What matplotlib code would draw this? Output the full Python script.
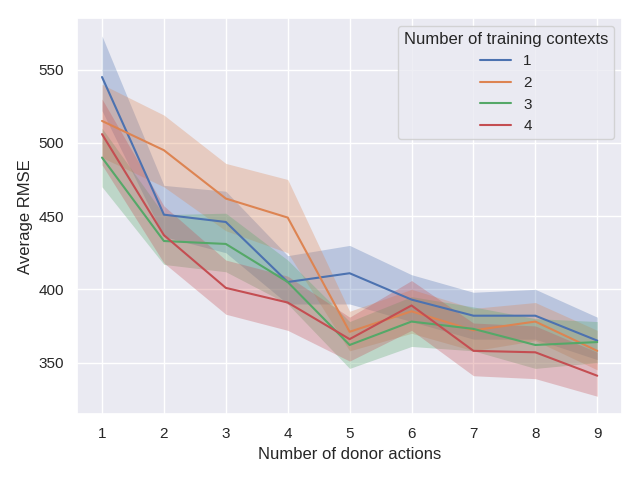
import matplotlib
matplotlib.use("Agg")
import matplotlib.pyplot as plt
import seaborn as sns

sns.set_theme(style="darkgrid")
plt.rcParams['font.family'] = ['Liberation Sans', 'DejaVu Sans']

actions = [1, 2, 3, 4, 5, 6, 7, 8, 9]
contexts = ["1", "2", "3", "4"]
means = {
    "1": [545, 451, 446, 405, 411, 393, 382, 382, 365],
    "2": [515, 495, 462, 449, 371, 385, 372, 378, 358],
    "3": [490, 433, 431, 405, 362, 378, 373, 362, 364],
    "4": [506, 437, 401, 391, 366, 389, 358, 357, 341],
}
upper = {
    "1": [573, 471, 467, 423, 430, 410, 398, 400, 381],
    "2": [540, 519, 486, 475, 385, 400, 387, 391, 372],
    "3": [510, 451, 452, 420, 378, 395, 388, 380, 378],
    "4": [530, 457, 420, 409, 381, 406, 377, 375, 357],
}
lower = {
    "1": [522, 436, 425, 390, 390, 378, 366, 366, 352],
    "2": [490, 470, 440, 425, 358, 370, 358, 365, 345],
    "3": [470, 417, 412, 390, 346, 361, 358, 346, 350],
    "4": [485, 418, 383, 372, 351, 372, 341, 339, 327],
}

colors = sns.color_palette("deep")
fig, ax = plt.subplots(figsize=(6.4, 4.8), dpi=100)
for i, c in enumerate(contexts):
    ax.plot(actions, means[c], color=colors[i], label=c)
    ax.fill_between(actions, lower[c], upper[c], color=colors[i], alpha=0.3, linewidth=0)

ax.set_xticks(actions)
ax.set_xlabel("Number of donor actions")
ax.set_ylabel("Average RMSE")
ax.legend(title="Number of training contexts", loc="upper right")
plt.tight_layout()
plt.savefig("out.png")
